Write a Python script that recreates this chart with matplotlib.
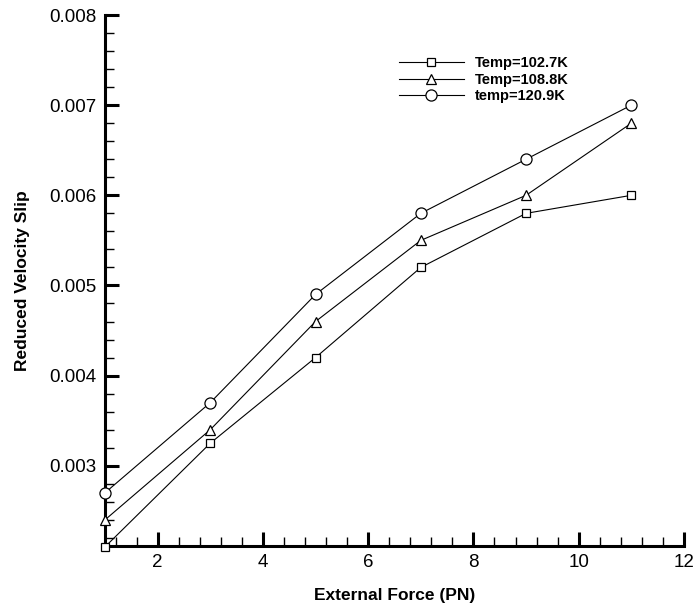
from matplotlib import pyplot as plt
from matplotlib.ticker import MultipleLocator, FormatStrFormatter

# external force (PN)
force = [1, 3, 5, 7, 9, 11]

# reduced velocity slip for each temperature
slip_102 = [0.0021, 0.00325, 0.0042, 0.0052, 0.0058, 0.0060]
slip_108 = [0.0024, 0.0034, 0.0046, 0.0055, 0.0060, 0.0068]
slip_120 = [0.0027, 0.0037, 0.0049, 0.0058, 0.0064, 0.0070]

labels = ["Temp=102.7K", "Temp=108.8K", "temp=120.9K"]

plt.rcParams["font.family"] = ["Liberation Sans", "DejaVu Sans"]

fig = plt.figure(figsize=(6.99, 6.13), dpi=100)
ax = fig.add_axes([0.1502, 0.1093, 0.8283, 0.8662])

line_kw = dict(color="black", linewidth=0.8, markerfacecolor="white",
               markeredgecolor="black", markeredgewidth=0.9, clip_on=False)
ax.plot(force, slip_102, marker="s", markersize=5.5, label=labels[0], zorder=3, **line_kw)
ax.plot(force, slip_108, marker="^", markersize=6.5, label=labels[1], zorder=3, **line_kw)
ax.plot(force, slip_120, marker="o", markersize=8, label=labels[2], zorder=3, **line_kw)

ax.set_xlim(1, 12)
ax.set_ylim(0.00211, 0.008)

ax.xaxis.set_major_locator(MultipleLocator(2))
ax.xaxis.set_minor_locator(MultipleLocator(0.4))
ax.yaxis.set_major_locator(MultipleLocator(0.001))
ax.yaxis.set_minor_locator(MultipleLocator(0.0002))
ax.yaxis.set_major_formatter(FormatStrFormatter("%.3f"))

for side in ["top", "right"]:
    ax.spines[side].set_visible(False)
for side in ["left", "bottom"]:
    ax.spines[side].set_linewidth(2.2)

ax.tick_params(which="major", direction="in", length=10, width=2.2,
               labelsize=13.5, pad=6)
ax.tick_params(which="minor", direction="in", length=6.5, width=1.0)

ax.set_xlabel("External Force (PN)", fontsize=12.5, fontweight="bold", labelpad=12)
ax.set_ylabel("Reduced Velocity Slip", fontsize=12.5, fontweight="bold", labelpad=14)

leg = ax.legend(loc="upper left", bbox_to_anchor=(0.497, 0.933), frameon=False,
                prop={"weight": "bold", "size": 10.5}, handlelength=4.5,
                handletextpad=0.7, labelspacing=0.15, borderaxespad=0)

fig.savefig("out.png", dpi=100)
